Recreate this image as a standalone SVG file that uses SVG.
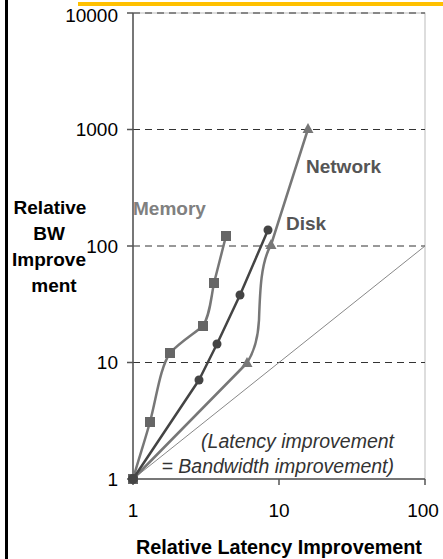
<svg xmlns="http://www.w3.org/2000/svg" width="443" height="559" viewBox="0 0 443 559">
<style>
.grid{stroke:#333;stroke-width:1;stroke-dasharray:7,5;fill:none}
.axis{stroke:#555;stroke-width:1.5;fill:none}
.num{font-family:"Liberation Sans",Arial,sans-serif;font-size:19px;fill:#000}
.bold{font-family:"Liberation Sans",Arial,sans-serif;font-size:19px;font-weight:bold}
.ital{font-family:"Liberation Sans",Arial,sans-serif;font-size:19.5px;font-style:italic;fill:#333}
.ser{fill:none;stroke-width:2.5;stroke-linejoin:round;stroke-linecap:round}
</style>
<rect width="443" height="559" fill="#fff"/>
<line x1="6.5" y1="0" x2="6.5" y2="559" stroke="#000" stroke-width="3"/>
<line x1="78" y1="4" x2="443" y2="4" stroke="#FFC000" stroke-width="4"/>
<g id="plot-area">
<rect x="133" y="13" width="292" height="466" fill="none" stroke="#bbb" stroke-width="1"/>
<line class="grid" x1="133" y1="13" x2="425" y2="13"/>
<line class="grid" x1="133" y1="129.5" x2="425" y2="129.5"/>
<line class="grid" x1="133" y1="246" x2="425" y2="246"/>
<line class="grid" x1="133" y1="362.5" x2="425" y2="362.5"/>
</g>
<g id="axes">
<line class="axis" x1="133" y1="13" x2="133" y2="479"/>
<line class="axis" x1="133" y1="479" x2="425" y2="479"/>
<path class="axis" d="M127,13H133M127,129.5H133M127,246H133M127,362.5H133M127,479H133M133,479V485M279,479V485M425,479V485"/>
</g>
<g id="tick-labels" class="num">
<text x="118" y="22" text-anchor="end">10000</text>
<text x="118" y="136" text-anchor="end">1000</text>
<text x="118" y="253" text-anchor="end">100</text>
<text x="118" y="369" text-anchor="end">10</text>
<text x="118" y="486" text-anchor="end">1</text>
<text x="133" y="517" text-anchor="middle">1</text>
<text x="279" y="517" text-anchor="middle">10</text>
<text x="423" y="517" text-anchor="middle">100</text>
</g>
<g id="axis-titles" class="bold" fill="#000" text-anchor="middle">
<text x="279" y="554" style="font-size:19.8px">Relative Latency Improvement</text>
<text x="50" y="214">Relative</text>
<text x="49" y="240">BW</text>
<text x="49" y="266">Improve</text>
<text x="54" y="292">ment</text>
</g>
<g id="reference-line">
<line x1="133" y1="479" x2="425" y2="246" stroke="#888" stroke-width="1"/>
<text class="ital" x="394" y="448" text-anchor="end">(Latency improvement</text>
<text class="ital" x="394" y="473" text-anchor="end">= Bandwidth improvement)</text>
</g>
<g id="network">
<path class="ser" stroke="#777" d="M133,479 L247,363 C254,352 258,340 259,320 C260,290 261,262 271,245 L308,129"/>
<g fill="#777">
<polygon points="247,357 252.5,367 241.5,367"/>
<polygon points="271,239 276.5,249 265.5,249"/>
<polygon points="308,123 313.5,133 302.5,133"/>
</g>
<text class="bold" x="306" y="173" fill="#555">Network</text>
</g>
<g id="memory">
<path class="ser" stroke="#777" d="M133,479 C140,455 145,440 150,422 C157,395 160,368 170,353 C180,342 195,333 203,326 C210,315 211,298 214,283 L226,236"/>
<g fill="#666">
<rect x="145" y="417" width="10" height="10"/>
<rect x="165" y="348" width="10" height="10"/>
<rect x="198" y="321" width="10" height="10"/>
<rect x="209" y="278" width="10" height="10"/>
<rect x="221" y="231" width="10" height="10"/>
<rect x="128" y="474" width="10" height="10"/>
</g>
<text class="bold" x="133" y="215" fill="#808080">Memory</text>
</g>
<g id="disk">
<path class="ser" stroke="#444" d="M133,479 L199,380 L217,344 L240,295 L268,230"/>
<g fill="#444">
<circle cx="199" cy="380" r="4.5"/>
<circle cx="217" cy="344" r="4.5"/>
<circle cx="240" cy="295" r="4.5"/>
<circle cx="268" cy="230" r="4.5"/>
<circle cx="133" cy="479" r="5"/>
</g>
<text class="bold" x="286" y="230" fill="#555">Disk</text>
</g>
</svg>
